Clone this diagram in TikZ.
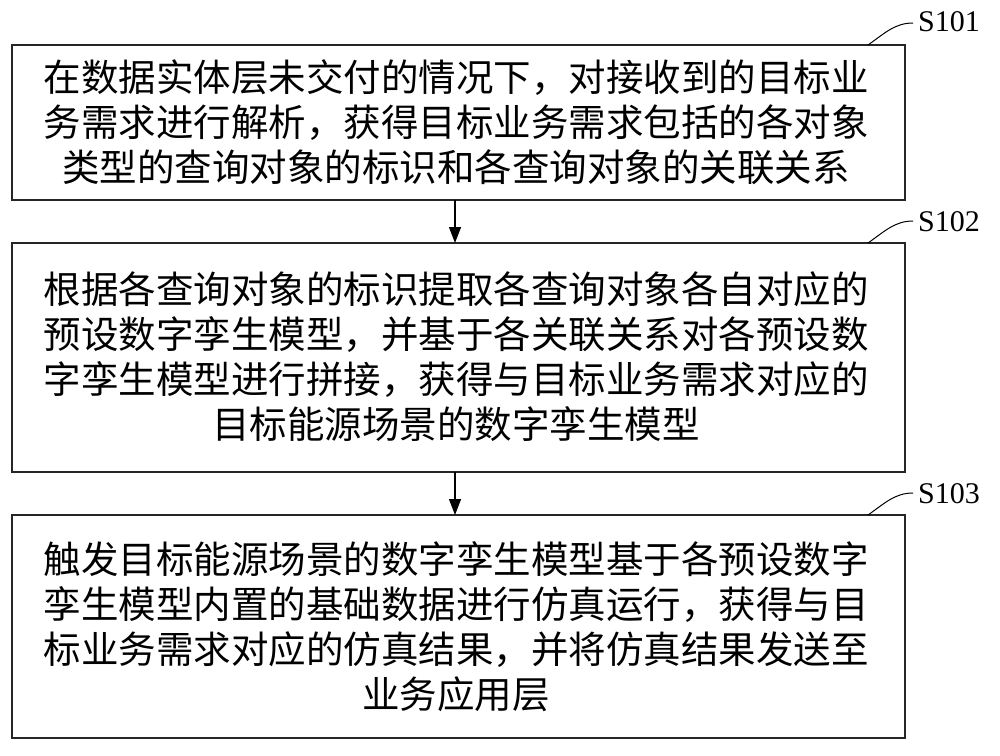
\documentclass[tikz,border=0pt]{standalone}
\usepackage{fontspec}
\setmainfont{Liberation Serif}
\newfontfamily\cjk{Noto Sans CJK SC}
\usetikzlibrary{arrows.meta}
\begin{document}
\begin{tikzpicture}[x=1pt,y=-1pt,
  stepbox/.style={draw=black!85,line width=1.3pt},
  txt/.style={font=\cjk\fontsize{37.5}{45}\selectfont,align=center,text width=890pt,inner sep=0pt},
  lab/.style={font=\fontsize{30}{30}\selectfont,anchor=west,inner sep=0pt},
  arr/.style={line width=1.3pt,-{Triangle[length=16pt,width=12pt]}}]
\useasboundingbox (0,0) rectangle (1000,755);
\draw[stepbox] (12,45) rectangle (905,200);
\draw[stepbox] (12,243) rectangle (905,472);
\draw[stepbox] (12,515) rectangle (905,738);
\coordinate (b1t) at (455,200); \coordinate (b2t) at (455,243);
\coordinate (b2b) at (455,472); \coordinate (b3t) at (455,515);
\node[txt] (t1) at (456,122) {在数据实体层未交付的情况下，对接收到的目标业\\务需求进行解析，获得目标业务需求包括的各对象\\类型的查询对象的标识和各查询对象的关联关系};
\node[txt] (t2) at (456,357) {根据各查询对象的标识提取各查询对象各自对应的\\预设数字孪生模型，并基于各关联关系对各预设数\\字孪生模型进行拼接，获得与目标业务需求对应的\\目标能源场景的数字孪生模型};
\node[txt] (t3) at (456,627) {触发目标能源场景的数字孪生模型基于各预设数字\\孪生模型内置的基础数据进行仿真运行，获得与目\\标业务需求对应的仿真结果，并将仿真结果发送至\\业务应用层};
\draw[arr] (b1t) -- (b2t);
\draw[arr] (b2b) -- (b3t);
\node[lab] (s1) at (918,22) {S101};
\node[lab] (s2) at (918,222) {S102};
\node[lab] (s3) at (918,494) {S103};
\foreach \y in {45,243,515}
  \draw[line width=1pt] (868,\y) .. controls (885,\y-12) and (895,\y-22) .. (913,\y-22);
\end{tikzpicture}
\end{document}
